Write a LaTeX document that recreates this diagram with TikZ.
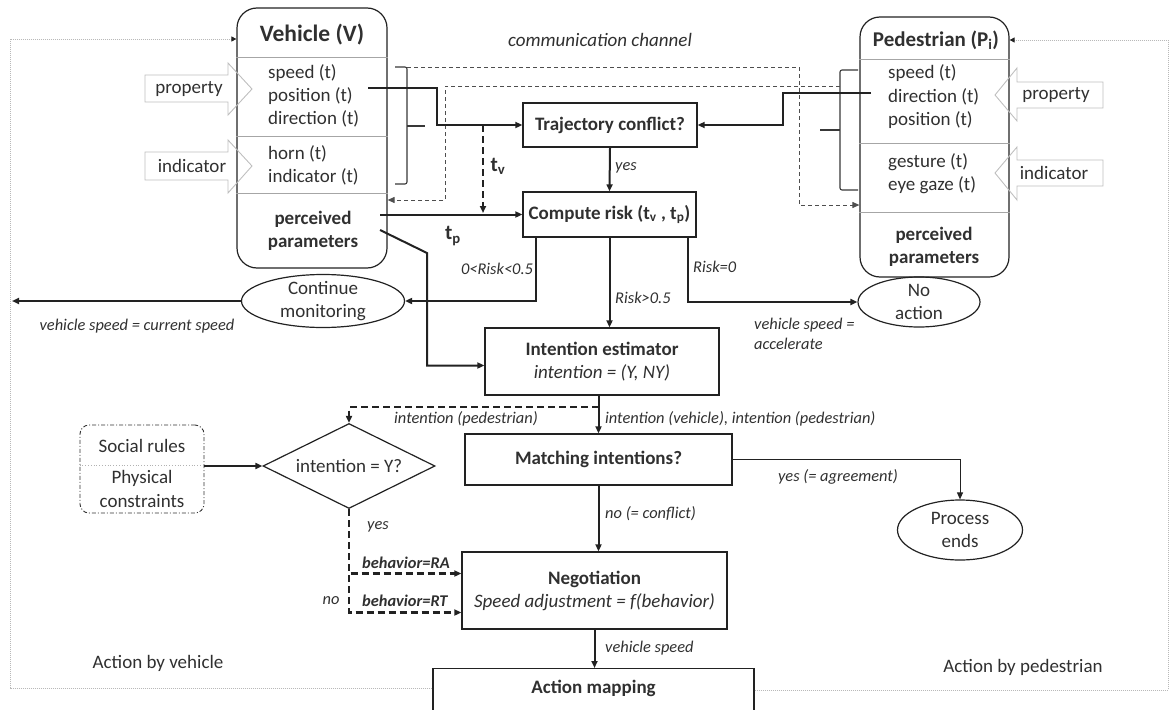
\documentclass[tikz,border=0pt]{standalone}
\usepackage{fontspec}
\setmainfont{Carlito}
\usetikzlibrary{arrows.meta,shapes.geometric,calc}
\definecolor{txt}{HTML}{303030}
\definecolor{ln}{HTML}{222222}
\newcommand{\fsn}{\fontsize{19}{23}\selectfont}
\newcommand{\fsl}{\fontsize{16.4}{20}\selectfont}
\newcommand{\fsh}{\fontsize{23.5}{28}\selectfont}
\newcommand{\fsp}{\fontsize{21}{25}\selectfont}
\begin{document}
\begin{tikzpicture}[x=1pt,y=-1pt,
  every node/.style={text=txt, inner sep=0pt, font=\fsn},
  tip/.style={-{Triangle[length=7pt,width=6pt]}},
  conn/.style={draw=ln, line width=2pt, tip},
  thinconn/.style={draw=ln, line width=1pt, tip},
  dconn/.style={draw=ln, line width=2.2pt, dash pattern=on 7pt off 4pt, tip},
  comm/.style={draw=ln!80, line width=1pt, dash pattern=on 4pt off 3pt, tip},
  frame/.style={draw=gray!55, line width=0.8pt, dash pattern=on 1pt off 1pt, -{Triangle[length=5pt,width=5pt,color=ln]}},
  boxn/.style={draw=ln, line width=1.3pt, font=\fsn\bfseries},
  rbox/.style={draw=ln, line width=1.2pt, rounded corners=20pt},
  sep/.style={draw=gray!70, line width=0.8pt},
  lab/.style={font=\fsl\itshape},
  brace/.style={draw=ln!90, line width=1.1pt, rounded corners=2pt},
  blockarr/.style={draw=gray!50, line width=0.9pt},
  ell/.style={draw=ln, line width=1.2pt, ellipse},
]
\useasboundingbox (0,0) rectangle (1174,709);

% ---------------- Vehicle box
\node[rbox, minimum width=150pt, minimum height=260pt] (veh) at (312,138) {};
\node[font=\fsh\bfseries] (vhead) at (312,35) {Vehicle (V)};
\draw[sep] (veh.west |- 0,57) -- (veh.east |- 0,57);
\draw[sep] (veh.west |- 0,136) -- (veh.east |- 0,136);
\draw[sep] (veh.west |- 0,193) -- (veh.east |- 0,193);
\node[anchor=west] (vs) at (268,73) {speed (t)};
\node[anchor=west] (vp) at (268,96) {position (t)};
\node[anchor=west] (vd) at (268,119) {direction (t)};
\node[anchor=west] (vh) at (268,154) {horn (t)};
\node[anchor=west] (vi) at (268,177) {indicator (t)};
\node[font=\fsn\bfseries, align=center] (vpp) at (313,231) {perceived\\parameters};

% vehicle block arrows
\draw[blockarr] (145,75) -- (228,75) -- (228,63) -- (252,89) -- (228,115) -- (228,102) -- (145,102) -- cycle;
\node (vprop) at (189,89) {property};
\draw[blockarr] (145,152) -- (228,152) -- (228,140) -- (252,166) -- (228,193) -- (228,180) -- (145,180) -- cycle;
\node (vind) at (192,166) {indicator};

% vehicle brace
\draw[brace] (395,67) -- (407,67) -- (407,184) -- (395,184);
\draw[brace] (407,126) -- (425,126);

% ---------------- Pedestrian box
\node[rbox, minimum width=149pt, minimum height=260pt] (ped) at (934.5,147) {};
\node[font=\fsp\bfseries] (phead) at (936,40) {Pedestrian (P\textsubscript{i})};
\draw[sep] (ped.west |- 0,59) -- (ped.east |- 0,59);
\draw[sep] (ped.west |- 0,143) -- (ped.east |- 0,143);
\draw[sep] (ped.west |- 0,212) -- (ped.east |- 0,212);
\node[anchor=west] (ps) at (888,73) {speed (t)};
\node[anchor=west] (pd) at (888,97) {direction (t)};
\node[anchor=west] (pp) at (888,120) {position (t)};
\node[anchor=west] (pg) at (888,162) {gesture (t)};
\node[anchor=west] (pe) at (888,185) {eye gaze (t)};
\node[font=\fsn\bfseries, align=center] (ppp) at (934,247) {perceived\\parameters};

% pedestrian block arrows
\draw[blockarr] (1103,82) -- (1017,82) -- (1017,68) -- (995,95) -- (1017,121) -- (1017,108) -- (1103,108) -- cycle;
\node (pprop) at (1056,95) {property};
\draw[blockarr] (1103,160) -- (1017,160) -- (1017,147) -- (995,173) -- (1017,200) -- (1017,186) -- (1103,186) -- cycle;
\node (pind) at (1054,173) {indicator};

% pedestrian brace
\draw[brace] (858,70) -- (840,70) -- (840,190) -- (858,190);
\draw[brace] (840,130) -- (820,130);

% ---------------- communication channel
\node[font=\fsn\itshape] (commlab) at (600,40) {communication channel};
\coordinate (vbrtop) at (407,67);
\coordinate (pbrin) at (840,86);
\draw[comm] (vbrtop) -- (799,67) -- (799,205) -- (ped.west |- 0,205);
\draw[comm] (pbrin) -- (445,86) -- (445,200) -- (veh.east |- 0,200);

% ---------------- central boxes
\node[boxn, minimum width=174pt, minimum height=44pt] (traj) at (610,125) {Trajectory conflict?};
\node[boxn, minimum width=173pt, minimum height=45pt] (comp) at (609.5,214.5) {Compute risk (t\textsubscript{v} , t\textsubscript{p})};
\node[boxn, minimum width=234pt, minimum height=67pt, align=center] (intest) at (602,361.5) {Intention estimator\\{\mdseries\itshape intention = (Y, NY)}};
\node[boxn, minimum width=267pt, minimum height=51pt] (match) at (598.5,459.5) {Matching intentions?};
\node[boxn, minimum width=265pt, minimum height=77pt, align=center] (negot) at (594.5,590.5) {Negotiation\\{\mdseries\itshape Speed adjustment = f(behavior)}};
\node[draw=ln, line width=1.3pt, minimum width=321pt, minimum height=64pt, anchor=north] (act) at (593.5,668) {};
\node[font=\fsn\bfseries] (actlab) at (593.5,688) {Action mapping};

% ellipses
\node[ell, minimum width=163pt, minimum height=53pt, label={[align=center]center:Continue\\monitoring}] (cont) at (323,301) {};
\node[ell, minimum width=122pt, minimum height=50pt, label={[align=center]center:No\\action}] (noact) at (919,302) {};
\node[ell, minimum width=125pt, minimum height=60pt, label={[align=center]center:Process\\ends}] (pend) at (960,530) {};

% diamond
\node[draw=ln, line width=1.2pt, diamond, minimum width=172pt, minimum height=85pt, label={center:intention = Y?}] (diam) at (349,466) {};

% social rules box
\node[draw=gray!40!black, line width=0.9pt, dash pattern=on 4pt off 2pt on 1pt off 2pt, rounded corners=9pt, minimum width=124pt, minimum height=88pt] (soc) at (142,469) {};
\draw[gray!60, line width=0.8pt, dotted] (soc.west |- 0,465) -- (soc.east |- 0,465);
\node (soc1) at (142,446) {Social rules};
\node (soc2) at (142,478) {Physical};
\node (soc3) at (142,501) {constraints};

% ---------------- connectors
\coordinate (vposout) at (368,88);
\draw[conn] (vposout) -- (437,88) |- (traj.west);
\coordinate (pdirout) at (871,93);
\draw[conn] (pdirout) -- (783,93) |- (traj.east);
\draw[conn] (traj.south) -- (comp.north);
\node[lab, anchor=west] (lyes) at (615,168) {yes};

\coordinate (tvtop) at (483,125);
\coordinate (tvbot) at (483,213);
\draw[dconn, line width=2.6pt] (tvtop) -- (tvbot);
\node[font=\fsp\bfseries] (ltv) at (498,166) {t\textsubscript{v}};

\coordinate (vperc) at (380,214.5);
\draw[conn] (vperc) -- (comp.west);
\node[font=\fsp\bfseries] (ltp) at (453,236) {t\textsubscript{p}};

\coordinate (vperc2) at (380,230);
\draw[conn] (vperc2) -- (427,253) |- ([yshift=-4pt]intest.west);

\draw[conn] ($(comp.south west)+(14,0)$) |- (cont.east);
\node[lab] (lr1) at (497,269) {0<Risk<0.5};
\coordinate (contout) at (12,301);
\draw[conn] (cont.west) -- (contout);
\node[lab] (lcur) at (137,326) {vehicle speed = current speed};

\draw[conn] (comp.south) -- (comp.south |- intest.north);
\node[lab, anchor=west] (lr2) at (615,298) {Risk>0.5};

\draw[conn] ($(comp.south east)+(-9,0)$) |- (noact.west);
\node[lab, anchor=west] (lr3) at (693,267) {Risk=0};
\node[lab, anchor=west, align=left] (lacc) at (754,334) {vehicle speed =\\accelerate};

\draw[conn] (intest.south -| match.north) -- (match.north);
\node[lab, anchor=west] (lint) at (605,419) {intention (vehicle), intention (pedestrian)};
\coordinate (split) at (match.north |- 0,407);
\draw[dconn] (split) -| (diam.north);
\node[lab, anchor=east] (lintp) at (538,419) {intention (pedestrian)};

\draw[conn] (soc.east |- diam.west) -- (diam.west);

\draw[thinconn] (match.east) -| (pend.north);
\node[lab] (lagr) at (838,477) {yes (= agreement)};

\draw[conn] (match.south) -- (match.south |- negot.north);
\node[lab, anchor=west] (lconf) at (605,514) {no (= conflict)};

\draw[dconn] (diam.south) |- ([yshift=17pt]negot.west);
\draw[dconn] (diam.south) |- ([yshift=-22pt]negot.west);
\node[lab, anchor=west] (lyes2) at (367,527) {yes};
\node[lab, font=\fsl\bfseries\itshape, anchor=west] (lra) at (362,563) {behavior=RA};
\node[lab, font=\fsl\bfseries\itshape, anchor=west] (lrt) at (362,601) {behavior=RT};
\node[lab] (lno) at (331,601) {no};

\draw[conn] (negot.south) -- (negot.south |- act.north);
\node[lab, anchor=west] (lvs) at (605,648) {vehicle speed};

% ---------------- frame
\draw[frame] (act.west |- 0,688) -- (10,688) -- (10,39) -- (veh.west |- 0,39);
\draw[frame] (act.east |- 0,690) -- (1168,690) -- (1168,40) -- (ped.east |- 0,40);
\node (lav) at (158,663) {Action by vehicle};
\node (lap) at (1023,667) {Action by pedestrian};
\end{tikzpicture}
\end{document}
